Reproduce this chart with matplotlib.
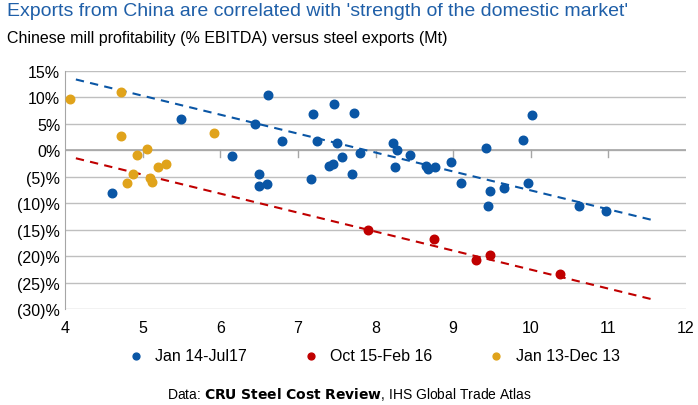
import matplotlib
matplotlib.use("Agg")
import matplotlib.pyplot as plt
from matplotlib.ticker import FuncFormatter
plt.rcParams['font.family'] = ['Liberation Sans', 'DejaVu Sans']

blue_x = [4.6,5.5,6.15,6.45,6.5,6.5,6.6,6.62,6.8,7.17,7.2,7.25,7.4,7.45,7.47,7.5,7.57,7.7,7.72,7.8,8.22,8.25,8.28,8.45,8.65,8.67,8.77,8.97,9.1,9.42,9.45,9.47,9.65,9.9,9.97,10.02,10.62,10.97]
blue_y = [-8,6,-1,5,-4.5,-6.7,-6.3,10.5,1.8,-5.5,6.8,1.8,-3,-2.5,8.7,1.3,-1.3,-4.5,7,-0.5,1.4,-3.2,0.1,-0.9,-3.0,-3.6,-3.2,-2.3,-6.1,0.4,-10.5,-7.7,-7.2,2.0,-6.2,6.6,-10.5,-11.5]
red_x = [7.9,8.75,9.3,9.47,10.38]
red_y = [-15,-16.8,-20.8,-19.8,-23.3]
gold_x = [4.07,4.72,4.72,4.8,4.87,4.93,5.05,5.1,5.12,5.2,5.3,5.92]
gold_y = [9.8,11.0,2.7,-6.1,-4.5,-0.8,0.2,-5.3,-6,-3.2,-2.5,3.3]
blue_trend_x = [4.14, 11.6]; blue_trend_y = [13.4, -13.3]
red_trend_x = [4.14, 11.6]; red_trend_y = [-1.5, -28.3]

BLUE, RED, GOLD = "#0a56a5", "#c00000", "#e0a31b"
fig = plt.figure(figsize=(6.98, 4.06), dpi=100)
ax = fig.add_axes([65/698, 1-310/406, 621/698, 238/406])
for v in range(-30, 16, 5):
    ax.axhline(v, color="#bfbfbf", lw=1, zorder=0)
ax.axhline(0, color="#a6a6a6", lw=1.2, zorder=0)
for t in range(5, 12):
    ax.plot([t, t], [0, -1.2], color="#a6a6a6", lw=1, zorder=0)
ax.plot(blue_trend_x, blue_trend_y, ls=(0, (4, 3)), color=BLUE, lw=1.5)
ax.plot(red_trend_x, red_trend_y, ls=(0, (4, 3)), color=RED, lw=1.5)
ax.scatter(blue_x, blue_y, s=38, color=BLUE, label="Jan 14-Jul17", zorder=3)
ax.scatter(red_x, red_y, s=38, color=RED, label="Oct 15-Feb 16", zorder=3)
ax.scatter(gold_x, gold_y, s=38, color=GOLD, label="Jan 13-Dec 13", zorder=3)
ax.set_xlim(4, 12); ax.set_ylim(-30, 15)
ax.set_xticks(range(4, 13)); ax.set_yticks(range(-30, 16, 5))
ax.yaxis.set_major_formatter(FuncFormatter(lambda v, p: f"{int(v)}%" if v >= 0 else f"({int(-v)})%"))
for s in ["top", "right", "bottom"]:
    ax.spines[s].set_visible(False)
ax.spines["left"].set_color("#a6a6a6")
ax.tick_params(length=0, labelsize=11.5)
ax.tick_params(axis="x", pad=8)
fig.legend(loc="center", bbox_to_anchor=(0.53, 1-357/406), ncol=3, frameon=False,
           fontsize=11.5, handletextpad=0.2, columnspacing=3, markerscale=0.8)
fig.text(7/698, 1-12/406, "Exports from China are correlated with 'strength of the domestic market'",
         color="#1f5fa8", fontsize=14, va="center")
fig.text(7/698, 1-38/406, "Chinese mill profitability (% EBITDA) versus steel exports (Mt)",
         fontsize=11.5, va="center")
fig.text(0.5, 1-395/406, r"Data: $\bf{CRU\ Steel\ Cost\ Review}$, IHS Global Trade Atlas",
         fontsize=10, ha="center", va="center")
fig.savefig("out.png", dpi=100)
